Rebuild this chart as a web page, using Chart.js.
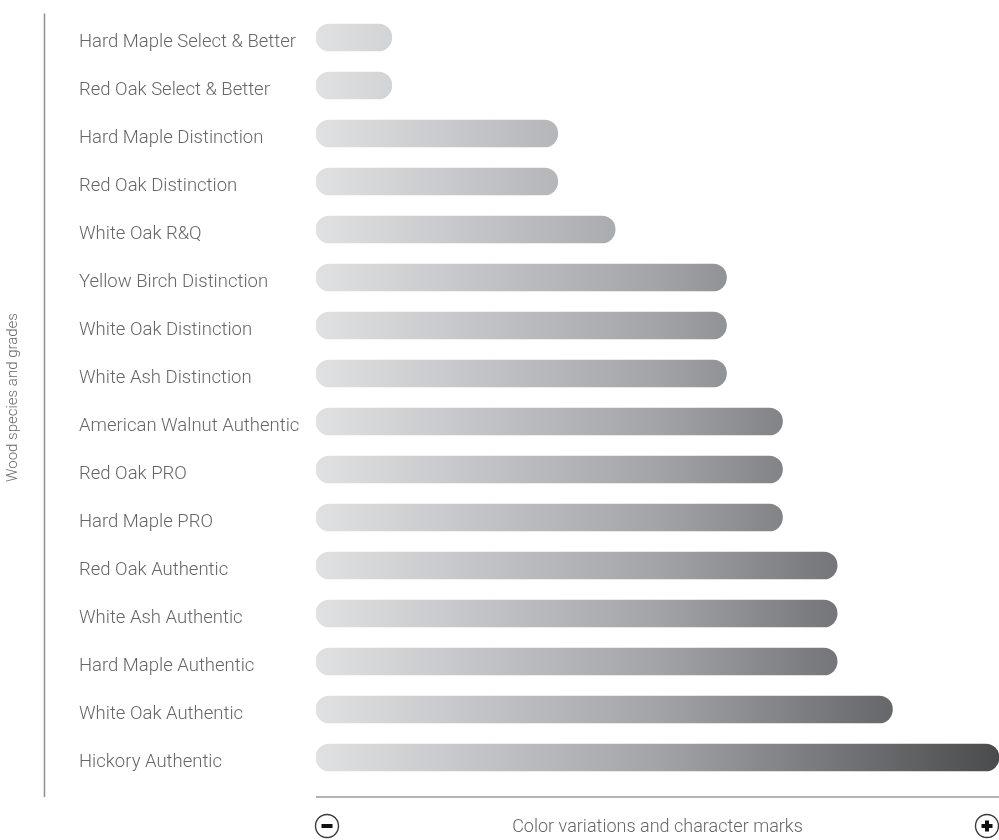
<!DOCTYPE html>
<html>
<head>
<meta charset="utf-8">
<script src="https://cdn.jsdelivr.net/npm/chart.js@4.4.1/dist/chart.umd.min.js"></script>
<style>
  html, body { margin: 0; padding: 0; background: #ffffff; }
  #wrap { width: 999px; height: 840px; position: relative; }
</style>
</head>
<body>
<div id="wrap"><canvas id="c"></canvas></div>
<script>
// ---- data ----
const categories = [
  'Hard Maple Select & Better',
  'Red Oak Select & Better',
  'Hard Maple Distinction',
  'Red Oak Distinction',
  'White Oak R&Q',
  'Yellow Birch Distinction',
  'White Oak Distinction',
  'White Ash Distinction',
  'American Walnut Authentic',
  'Red Oak PRO',
  'Hard Maple PRO',
  'Red Oak Authentic',
  'White Ash Authentic',
  'Hard Maple Authentic',
  'White Oak Authentic',
  'Hickory Authentic'
];
const variationLevel = [11.1, 11.1, 35.4, 35.4, 43.8, 60.1, 60.1, 60.1, 68.3, 68.3, 68.3, 76.3, 76.3, 76.3, 84.4, 100];
const yAxisTitle = 'Wood species and grades';
const xAxisTitle = 'Color variations and character marks';

// ---- styling ----
const FONT_FAMILY = 'Roboto, "Liberation Sans", sans-serif';
const WEIGHT = 300;
const TEXT_COLOR = '#666666';
const PLOT_LEFT = 316;
const LABEL_X = 79;

// size fonts so text widths match the reference
const mctx = document.createElement('canvas').getContext('2d');
function widthAt(text, size) {
  mctx.font = WEIGHT + ' ' + size + 'px ' + FONT_FAMILY;
  return mctx.measureText(text).width;
}
function fitSize(text, target) {
  return Math.round(100 * 16 * target / widthAt(text, 16)) / 100;
}
const LABEL_SIZE = fitSize('Hard Maple Select & Better', 217);
const YTITLE_SIZE = fitSize(yAxisTitle, 169);
const XTITLE_SIZE = fitSize(xAxisTitle, 291);

function barGradient(ctx) {
  const chart = ctx.chart;
  const area = chart.chartArea;
  if (!area) return '#b0b1b4';
  const g = chart.ctx.createLinearGradient(area.left, 0, area.right, 0);
  g.addColorStop(0, '#e0e1e3');
  g.addColorStop(0.5, '#a3a4a8');
  g.addColorStop(1, '#4a4b4d');
  return g;
}

const decorPlugin = {
  id: 'decor',
  afterDraw(chart) {
    const ctx = chart.ctx;
    const a = chart.chartArea;
    const lineY = a.bottom + 15.5;
    ctx.save();
    // vertical rule at left
    ctx.strokeStyle = '#8f8f8f';
    ctx.lineWidth = 1.5;
    ctx.beginPath();
    ctx.moveTo(44.5, a.top);
    ctx.lineTo(44.5, lineY);
    ctx.stroke();
    // bottom rule
    ctx.strokeStyle = '#9a9a9a';
    ctx.lineWidth = 1.3;
    ctx.beginPath();
    ctx.moveTo(a.left, lineY);
    ctx.lineTo(a.right, lineY);
    ctx.stroke();
    // icons
    const cy = 826;
    const r = 11.5;
    function circle(cx) {
      ctx.strokeStyle = '#3a3a3a';
      ctx.lineWidth = 1.4;
      ctx.beginPath();
      ctx.arc(cx, cy, r, 0, Math.PI * 2);
      ctx.stroke();
    }
    ctx.fillStyle = '#111111';
    const mx = a.left + 11;
    circle(mx);
    ctx.fillRect(mx - 5.5, cy - 2, 11, 4);
    const px = a.right - 12;
    circle(px);
    ctx.fillRect(px - 5.5, cy - 2, 11, 4);
    ctx.fillRect(px - 2, cy - 5.5, 4, 11);
    ctx.restore();
  }
};

new Chart(document.getElementById('c'), {
  type: 'bar',
  data: {
    labels: categories,
    datasets: [{
      data: variationLevel,
      backgroundColor: barGradient,
      borderRadius: 14,
      borderSkipped: false,
      barThickness: 27,
      yAxisID: 'y'
    }]
  },
  options: {
    indexAxis: 'y',
    responsive: true,
    maintainAspectRatio: false,
    animation: false,
    layout: { padding: { top: 13.5, left: 0, right: 0, bottom: 0 } },
    plugins: { legend: { display: false }, tooltip: { enabled: false } },
    scales: {
      x: {
        min: 0,
        max: 100,
        grid: { display: false, drawTicks: false },
        border: { display: false },
        ticks: { display: false },
        title: {
          display: true,
          text: xAxisTitle,
          color: TEXT_COLOR,
          font: { family: FONT_FAMILY, size: XTITLE_SIZE, weight: WEIGHT },
          padding: { top: 0, bottom: 2 }
        },
        afterFit(scale) { scale.height = 58.5; }
      },
      y: {
        position: 'left',
        weight: 0,
        grid: { display: false, drawTicks: false },
        border: { display: false },
        ticks: {
          crossAlign: 'far',
          padding: 0,
          labelOffset: 5,
          color: TEXT_COLOR,
          font: { family: FONT_FAMILY, size: LABEL_SIZE, weight: WEIGHT }
        },
        afterFit(scale) { scale.width = PLOT_LEFT - LABEL_X; }
      },
      yTitle: {
        type: 'category',
        position: 'left',
        weight: 1,
        grid: { display: false, drawTicks: false },
        border: { display: false },
        ticks: { display: false },
        title: {
          display: true,
          text: yAxisTitle,
          color: TEXT_COLOR,
          font: { family: FONT_FAMILY, size: YTITLE_SIZE, weight: WEIGHT },
          padding: { top: 4, bottom: 0 }
        },
        afterFit(scale) { scale.width = LABEL_X; }
      }
    }
  },
  plugins: [decorPlugin]
});
</script>
</body>
</html>
